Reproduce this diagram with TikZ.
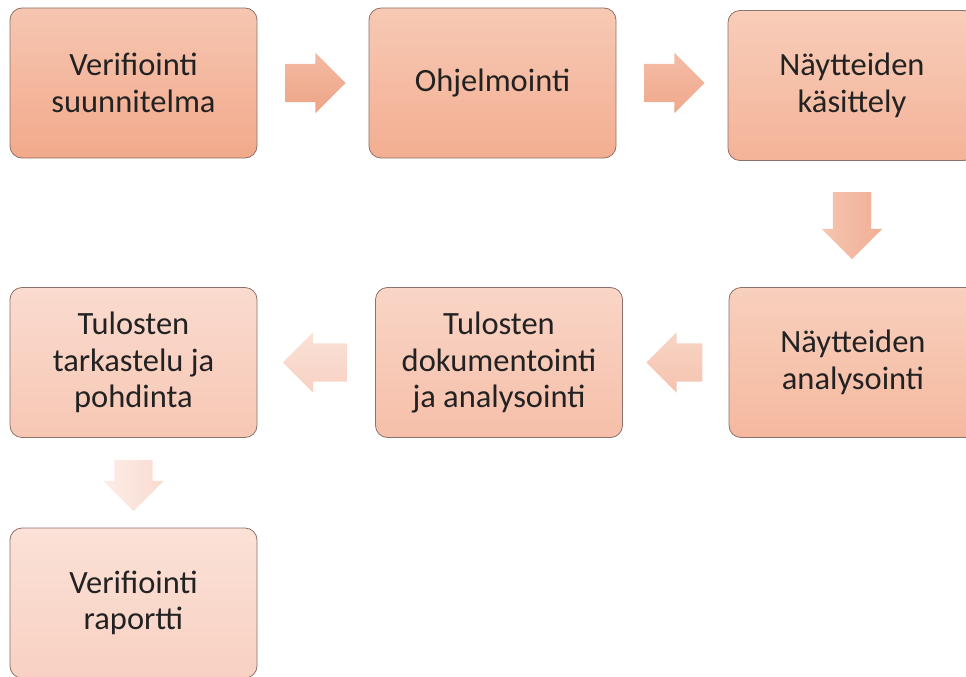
\documentclass[tikz,border=0pt]{standalone}
\usepackage{fontspec}
\setmainfont{Carlito}
\usetikzlibrary{shapes.arrows,calc}

\newcommand*{\boxw}{247pt}
\newcommand*{\boxh}{150pt}

\definecolor{edgecol}{HTML}{8C7268}
\definecolor{textcol}{HTML}{222222}
% box shades, top and bottom
\definecolor{suuntop}{HTML}{F6C6B1}\definecolor{suunbot}{HTML}{F2A98B}
\definecolor{ohjtop}{HTML}{F7C9B4}\definecolor{ohjbot}{HTML}{F3AE91}
\definecolor{kastop}{HTML}{F8CDB9}\definecolor{kasbot}{HTML}{F4B398}
\definecolor{anatop}{HTML}{F8D0BD}\definecolor{anabot}{HTML}{F5B89F}
\definecolor{doktop}{HTML}{F9D5C6}\definecolor{dokbot}{HTML}{F6BFA9}
\definecolor{pohtop}{HTML}{FADBCF}\definecolor{pohbot}{HTML}{F7C7B4}
\definecolor{raptop}{HTML}{FBE1D7}\definecolor{rapbot}{HTML}{F8D1C2}
% arrow shades
\definecolor{aonetop}{HTML}{F3BAA3}\definecolor{aonebot}{HTML}{EEA486}
\definecolor{atwotop}{HTML}{F4BCA5}\definecolor{atwobot}{HTML}{F0A98D}
\definecolor{athreetop}{HTML}{F5C5B1}\definecolor{athreebot}{HTML}{F1AF94}
\definecolor{afourtop}{HTML}{F8D4C5}\definecolor{afourbot}{HTML}{F5C3AF}
\definecolor{afivetop}{HTML}{FAE1D7}\definecolor{afivebot}{HTML}{F7D1C2}
\definecolor{asixtop}{HTML}{FCEDE7}\definecolor{asixbot}{HTML}{F9DBD0}

\begin{document}
\begin{tikzpicture}
[
	x=1pt,y=-1pt,
	stepbox/.style={draw=edgecol,line width=0.8pt,rounded corners=12pt,
		minimum width=\boxw,minimum height=\boxh,align=center,text=textcol,
		font=\fontsize{32.5}{36.5}\selectfont},
	grad/.style={top color=#1top,bottom color=#1bot},
	downgrad/.style={left color=#1top,right color=#1bot},
	blockarrow/.style={single arrow,draw=none,inner xsep=0pt,inner ysep=19pt,
		single arrow head extend=11pt,single arrow tip angle=90,
		minimum height=60pt,anchor=tail}
]

	\useasboundingbox (0,0) rectangle (966,677);
	\clip (0,0) rectangle (966,677);

	% top row
	\node[stepbox,grad=suun] at (133.5,83) (suunnitelma) {Verifiointi\\suunnitelma};
	\node[stepbox,grad=ohj] at (492.5,83) (ohjelmointi) {Ohjelmointi};
	\node[stepbox,grad=kas,minimum width=248pt] at (852,85.5) (kasittely) {Näytteiden\\käsittely};

	% middle row
	\node[stepbox,grad=ana,minimum width=248pt] at (853,362.5) (analysointi) {Näytteiden\\analysointi};
	\node[stepbox,grad=dok] at (499,362.5) (dokumentointi) {Tulosten\\dokumentointi\\ja analysointi};
	\node[stepbox,grad=poh] at (133.5,362.5) (pohdinta) {Tulosten\\tarkastelu ja\\pohdinta};

	% bottom row
	\node[stepbox,grad=rap] at (133.5,603) (raportti) {Verifiointi\\raportti};

	% arrows
	\node[blockarrow,grad=aone] at ($(suunnitelma.east)+(28,0)$) (a1) {};
	\node[blockarrow,grad=atwo] at ($(ohjelmointi.east)+(28,0)$) (a2) {};
	\node[blockarrow,downgrad=athree,rotate=-90,minimum height=67pt] at ($(kasittely.south)+(0,31)$) (a3) {};
	\node[blockarrow,grad=afour,shape border rotate=180,minimum height=56pt] at ($(analysointi.west)+(-26,0)$) (a4) {};
	\node[blockarrow,grad=afive,shape border rotate=180,minimum height=64pt] at ($(dokumentointi.west)+(-28,0)$) (a5) {};
	\node[blockarrow,downgrad=asix,rotate=-90,minimum height=51pt] at ($(pohdinta.south)+(0,22)$) (a6) {};

\end{tikzpicture}
\end{document}
